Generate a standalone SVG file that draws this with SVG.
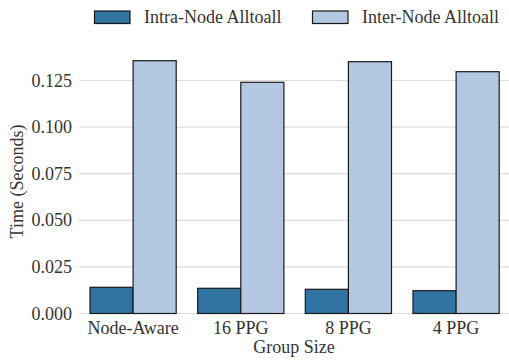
<svg xmlns="http://www.w3.org/2000/svg" width="509" height="360" viewBox="0 0 509 360" font-family="'Liberation Serif', 'DejaVu Serif', 'Times New Roman', Times, serif">
  <style>
    .tick { font-family: 'Liberation Serif', 'DejaVu Serif', 'Times New Roman', Times, serif; font-size: 18px; fill: #333333; }
    .grid { stroke: #dcdcdc; stroke-width: 1.2; }
    .intra { fill: #3274a1; stroke: #1a1a1a; stroke-width: 1.2; }
    .inter { fill: #b3c7e1; stroke: #1a1a1a; stroke-width: 1.2; }
  </style>
  <rect width="509" height="360" fill="#ffffff"/>

  <!-- horizontal grid lines: 0.000 … 0.125 -->
  <g id="grid">
    <line class="grid" x1="79" y1="313.5" x2="509" y2="313.5"/>
    <line class="grid" x1="79" y1="266.9" x2="509" y2="266.9"/>
    <line class="grid" x1="79" y1="220.3" x2="509" y2="220.3"/>
    <line class="grid" x1="79" y1="173.7" x2="509" y2="173.7"/>
    <line class="grid" x1="79" y1="127.1" x2="509" y2="127.1"/>
    <line class="grid" x1="79" y1="80.5" x2="509" y2="80.5"/>
  </g>

  <!-- y tick labels -->
  <g id="yticks" text-anchor="end">
    <text class="tick" x="72" y="319.5">0.000</text>
    <text class="tick" x="72" y="272.9">0.025</text>
    <text class="tick" x="72" y="226.3">0.050</text>
    <text class="tick" x="72" y="179.7">0.075</text>
    <text class="tick" x="72" y="133.1">0.100</text>
    <text class="tick" x="72" y="86.5">0.125</text>
  </g>

  <!-- bars -->
  <g id="bars">
    <g id="node-aware">
      <rect class="intra" x="90" y="287.3" width="43.1" height="26.2"/>
      <rect class="inter" x="133.1" y="60.7" width="43.1" height="252.8"/>
    </g>
    <g id="ppg16">
      <rect class="intra" x="197.7" y="288.3" width="43.1" height="25.2"/>
      <rect class="inter" x="240.8" y="82.3" width="43.1" height="231.2"/>
    </g>
    <g id="ppg8">
      <rect class="intra" x="305.3" y="289.3" width="43.1" height="24.2"/>
      <rect class="inter" x="348.4" y="61.7" width="43.1" height="251.8"/>
    </g>
    <g id="ppg4">
      <rect class="intra" x="413" y="290.7" width="43.1" height="22.8"/>
      <rect class="inter" x="456.1" y="71.7" width="43.1" height="241.8"/>
    </g>
  </g>

  <!-- x tick labels -->
  <g id="xticks" text-anchor="middle">
    <text class="tick" x="133.1" y="334">Node-Aware</text>
    <text class="tick" x="240.8" y="334">16 PPG</text>
    <text class="tick" x="348.4" y="334">8 PPG</text>
    <text class="tick" x="456.1" y="334">4 PPG</text>
  </g>

  <!-- axis titles -->
  <text id="xlabel" class="tick" x="294" y="353" text-anchor="middle">Group Size</text>
  <text id="ylabel" class="tick" transform="translate(23,181.5) rotate(-90)" text-anchor="middle">Time (Seconds)</text>

  <!-- legend -->
  <g id="legend">
    <rect class="intra" x="94.5" y="11" width="35.5" height="12.5"/>
    <text class="tick" x="144" y="23">Intra-Node Alltoall</text>
    <rect class="inter" x="312.5" y="11" width="35.5" height="12.5"/>
    <text class="tick" x="362" y="23">Inter-Node Alltoall</text>
  </g>
</svg>
